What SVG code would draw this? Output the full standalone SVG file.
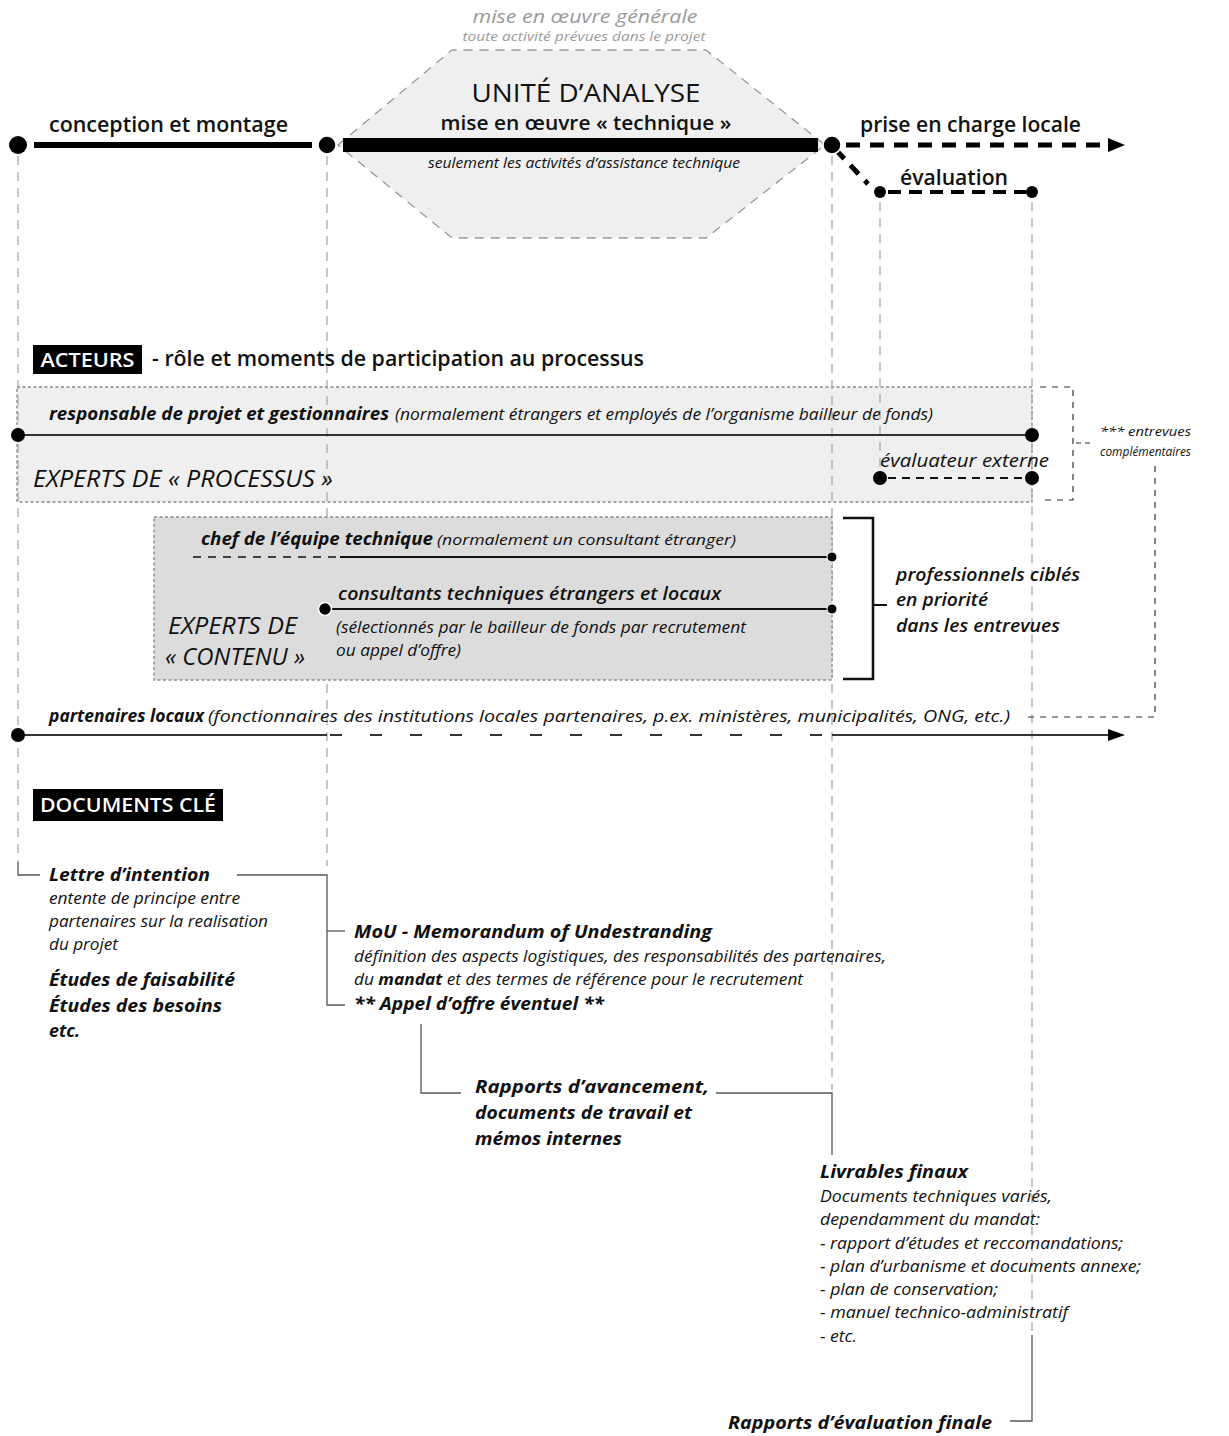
<svg xmlns="http://www.w3.org/2000/svg" width="1229" height="1436" viewBox="0 0 1229 1436">
<defs>
<style>
text{font-family:"Open Sans","Noto Sans",sans-serif;fill:#111}
.sb{font-weight:600}
.it{font-style:italic}
.bi{font-style:italic;font-weight:700}
.si{font-style:italic;font-weight:600}
.gray{fill:#9a9a9a}
.wh{fill:#fff}
.vl{stroke:#a8a8a8;stroke-width:1.3;stroke-dasharray:9,7;fill:none}
.cn{stroke:#555;stroke-width:1.3;fill:none}
.blk{fill:#000}
</style>
</defs>
<rect width="1229" height="1436" fill="#fff"/>

<!-- processus box (under lines) -->
<g id="box-processus">
<rect x="17" y="387" width="1015" height="115" fill="#efefef" stroke="#8a8a8a" stroke-width="1.4" stroke-dasharray="3,2.5"/>
</g>

<!-- hexagon -->
<g id="unite-analyse">
<polygon points="338,145 452,50 706,50 825,145 706,238 452,238" fill="#efefef" stroke="#9a9a9a" stroke-width="1.3" stroke-dasharray="9,7"/>
<text class="it gray" x="585" y="23" font-size="19" text-anchor="middle" textLength="225" lengthAdjust="spacingAndGlyphs">mise en œuvre générale</text>
<text class="it gray" x="584" y="41" font-size="12.5" text-anchor="middle" textLength="243" lengthAdjust="spacingAndGlyphs">toute activité prévues dans le projet</text>
<text x="586" y="102" font-size="26" font-weight="500" text-anchor="middle" textLength="229" lengthAdjust="spacingAndGlyphs">UNITÉ D’ANALYSE</text>
<text class="sb" x="586" y="130" font-size="19" text-anchor="middle" textLength="291" lengthAdjust="spacingAndGlyphs">mise en œuvre « technique »</text>
<text class="it" x="584" y="168" font-size="15" text-anchor="middle" textLength="312" lengthAdjust="spacingAndGlyphs">seulement les activités d’assistance technique</text>
</g>

<!-- connectors -->
<g id="connectors">
<line class="vl" x1="18" y1="156" x2="18" y2="862"/>
<line class="vl" x1="327" y1="156" x2="327" y2="866"/>
<line class="vl" x1="832" y1="156" x2="832" y2="1090"/>
<line class="vl" x1="880" y1="202" x2="880" y2="470"/>
<line class="vl" x1="1032" y1="202" x2="1032" y2="1335"/>
<line x1="34" y1="145" x2="312" y2="145" stroke="#000" stroke-width="6"/>
<line x1="343" y1="145" x2="818" y2="145" stroke="#000" stroke-width="14"/>
<line x1="846" y1="145" x2="1108" y2="145" stroke="#000" stroke-width="5" stroke-dasharray="14,10"/>
<polygon points="1108,138 1125,145 1108,152" fill="#000"/>
<line x1="836" y1="150" x2="868" y2="184" stroke="#000" stroke-width="5" stroke-dasharray="12,9"/>
<line x1="888" y1="192" x2="1026" y2="192" stroke="#000" stroke-width="4" stroke-dasharray="13,8"/>
<line x1="18" y1="435" x2="1032" y2="435" stroke="#333" stroke-width="2"/>
<line x1="888" y1="478" x2="1028" y2="478" stroke="#111" stroke-width="1.8" stroke-dasharray="8,6"/>
<polyline points="1040,387 1073,387 1073,500 1040,500" fill="none" stroke="#333" stroke-width="1.2" stroke-dasharray="6,6"/>
<line x1="1076" y1="443" x2="1092" y2="443" stroke="#333" stroke-width="1.2" stroke-dasharray="5,4"/>
<polyline points="1155,466 1155,717 1025,717" fill="none" stroke="#333" stroke-width="1.2" stroke-dasharray="6,6"/>
<line x1="18" y1="735" x2="327" y2="735" stroke="#333" stroke-width="2"/>
<line x1="330" y1="735" x2="830" y2="735" stroke="#333" stroke-width="2" stroke-dasharray="12,28"/>
<line x1="832" y1="735" x2="1110" y2="735" stroke="#333" stroke-width="2"/>
<polygon points="1108,729 1125,735 1108,741" fill="#000"/>
<polyline class="cn" points="18,862 18,875 40,875"/>
<polyline class="cn" points="237,875 327,875 327,1005 345,1005"/>
<line class="cn" x1="327" y1="931" x2="345" y2="931"/>
<polyline class="cn" points="421,1024 421,1093 461,1093"/>
<polyline class="cn" points="716,1093 832,1093 832,1155"/>
<polyline class="cn" points="1032,1335 1032,1421 1010,1421"/>
</g>

<g id="timeline">
<circle cx="18" cy="145" r="9" class="blk"/>
<circle cx="327" cy="145" r="9" class="blk" stroke="#fff" stroke-width="1.5"/>
<circle cx="832" cy="145" r="9" class="blk" stroke="#fff" stroke-width="1.5"/>
<circle cx="880" cy="192" r="6" class="blk"/>
<circle cx="1032" cy="192" r="6" class="blk"/>
<text class="sb" x="49" y="132" font-size="21" textLength="239" lengthAdjust="spacingAndGlyphs">conception et montage</text>
<text class="sb" x="860" y="132" font-size="21" textLength="221" lengthAdjust="spacingAndGlyphs">prise en charge locale</text>
<text class="sb" x="900" y="185" font-size="21" textLength="108" lengthAdjust="spacingAndGlyphs">évaluation</text>
</g>

<g id="acteurs-header">
<rect x="33" y="345" width="109" height="29" fill="#000"/>
<text class="sb wh" x="87.5" y="367" font-size="20" text-anchor="middle" textLength="94" lengthAdjust="spacingAndGlyphs">ACTEURS</text>
<text class="sb" x="152" y="366" font-size="21" textLength="492" lengthAdjust="spacingAndGlyphs">-  rôle et moments de participation au processus</text>
</g>

<g id="experts-processus">
<text class="bi" x="49" y="420" font-size="17" textLength="340" lengthAdjust="spacingAndGlyphs">responsable de projet et gestionnaires</text>
<text class="it" x="395" y="420" font-size="15.5" textLength="538" lengthAdjust="spacingAndGlyphs">(normalement étrangers et employés de l’organisme bailleur de fonds)</text>
<circle cx="18" cy="435" r="7" class="blk"/>
<circle cx="1032" cy="435" r="7" class="blk"/>
<text class="it" x="33" y="487" font-size="23" textLength="300" lengthAdjust="spacingAndGlyphs">EXPERTS DE  « PROCESSUS »</text>
<text class="it" x="880" y="467" font-size="18" textLength="169" lengthAdjust="spacingAndGlyphs">évaluateur externe</text>
<circle cx="880" cy="478" r="7" class="blk"/>
<circle cx="1032" cy="478" r="7" class="blk"/>
<text class="it" x="1100" y="436" font-size="13" textLength="91" lengthAdjust="spacingAndGlyphs">*** entrevues</text>
<text class="it" x="1100" y="456" font-size="13" textLength="91" lengthAdjust="spacingAndGlyphs">complémentaires</text>
</g>

<g id="experts-contenu">
<rect x="154" y="517" width="678" height="163" fill="#dcdcdc" stroke="#8a8a8a" stroke-width="1.4" stroke-dasharray="3,2.5"/>
<text class="bi" x="201" y="545" font-size="17" textLength="232" lengthAdjust="spacingAndGlyphs">chef de l’équipe technique</text>
<text class="it" x="437" y="545" font-size="15" textLength="299" lengthAdjust="spacingAndGlyphs">(normalement un consultant étranger)</text>
<line x1="193" y1="557" x2="338" y2="557" stroke="#111" stroke-width="1.6" stroke-dasharray="8,7"/>
<line x1="340" y1="557" x2="832" y2="557" stroke="#111" stroke-width="1.8"/>
<circle cx="832" cy="557" r="5" class="blk" stroke="#fff" stroke-width="1"/>
<text class="si" x="338" y="600" font-size="18" textLength="383" lengthAdjust="spacingAndGlyphs">consultants techniques étrangers et locaux</text>
<line x1="325" y1="609" x2="832" y2="609" stroke="#111" stroke-width="1.8"/>
<circle cx="325" cy="609" r="6.5" class="blk" stroke="#fff" stroke-width="1.5"/>
<circle cx="832" cy="609" r="5" class="blk" stroke="#fff" stroke-width="1"/>
<text class="it" x="336" y="633" font-size="16" textLength="410" lengthAdjust="spacingAndGlyphs">(sélectionnés par le bailleur de fonds par recrutement</text>
<text class="it" x="336" y="656" font-size="16" textLength="125" lengthAdjust="spacingAndGlyphs">ou appel d’offre)</text>
<text class="it" x="168" y="634" font-size="23" textLength="129" lengthAdjust="spacingAndGlyphs">EXPERTS DE</text>
<text class="it" x="165" y="665" font-size="23" textLength="140" lengthAdjust="spacingAndGlyphs">« CONTENU »</text>
</g>

<g id="professionnels-cibles">
<polyline points="843,518 873,518 873,679 843,679" fill="none" stroke="#111" stroke-width="2.6"/>
<line x1="873" y1="605" x2="887" y2="605" stroke="#111" stroke-width="2"/>
<text class="si" x="896" y="581" font-size="18" textLength="184" lengthAdjust="spacingAndGlyphs">professionnels ciblés</text>
<text class="si" x="896" y="606" font-size="18" textLength="92" lengthAdjust="spacingAndGlyphs">en priorité</text>
<text class="si" x="896" y="632" font-size="18" textLength="164" lengthAdjust="spacingAndGlyphs">dans les entrevues</text>
</g>

<g id="partenaires-locaux">
<text class="bi" x="49" y="722" font-size="17" textLength="155" lengthAdjust="spacingAndGlyphs">partenaires locaux</text>
<text class="it" x="208" y="722" font-size="17" textLength="802" lengthAdjust="spacingAndGlyphs">(fonctionnaires des institutions locales partenaires, p.ex. ministères, municipalités, ONG, etc.)</text>
<circle cx="18" cy="735" r="7" class="blk"/>
</g>

<g id="documents-header">
<rect x="33" y="789" width="190" height="32" fill="#000"/>
<text class="sb wh" x="128" y="812" font-size="20" text-anchor="middle" textLength="176" lengthAdjust="spacingAndGlyphs">DOCUMENTS CLÉ</text>
</g>

<g id="doc-lettre">
<text class="bi" x="49" y="881" font-size="18" textLength="161" lengthAdjust="spacingAndGlyphs">Lettre d’intention</text>
<text class="it" x="49" y="904" font-size="16" textLength="191" lengthAdjust="spacingAndGlyphs">entente de principe entre</text>
<text class="it" x="49" y="927" font-size="16" textLength="219" lengthAdjust="spacingAndGlyphs">partenaires sur la realisation</text>
<text class="it" x="49" y="950" font-size="16" textLength="69" lengthAdjust="spacingAndGlyphs">du projet</text>
<text class="bi" x="49" y="986" font-size="18" textLength="186" lengthAdjust="spacingAndGlyphs">Études de faisabilité</text>
<text class="bi" x="49" y="1012" font-size="18" textLength="173" lengthAdjust="spacingAndGlyphs">Études des besoins</text>
<text class="bi" x="49" y="1037" font-size="18" textLength="31" lengthAdjust="spacingAndGlyphs">etc.</text>
</g>

<g id="doc-mou">
<text class="bi" x="354" y="938" font-size="18" textLength="358" lengthAdjust="spacingAndGlyphs">MoU - Memorandum of Undestranding</text>
<text class="it" x="354" y="962" font-size="16" textLength="532" lengthAdjust="spacingAndGlyphs">définition des aspects logistiques, des responsabilités des partenaires,</text>
<text class="it" x="354" y="985" font-size="16" textLength="449" lengthAdjust="spacingAndGlyphs">du <tspan font-weight="700">mandat</tspan> et des termes de référence pour le recrutement</text>
<text class="bi" x="354" y="1010" font-size="18" textLength="250" lengthAdjust="spacingAndGlyphs">** Appel d’offre éventuel **</text>
</g>

<g id="doc-rapports">
<text class="bi" x="475" y="1093" font-size="18" textLength="234" lengthAdjust="spacingAndGlyphs">Rapports d’avancement,</text>
<text class="bi" x="475" y="1119" font-size="18" textLength="217" lengthAdjust="spacingAndGlyphs">documents de travail et</text>
<text class="bi" x="475" y="1145" font-size="18" textLength="147" lengthAdjust="spacingAndGlyphs">mémos internes</text>
</g>

<g id="doc-livrables">
<text class="bi" x="820" y="1178" font-size="18" textLength="148" lengthAdjust="spacingAndGlyphs">Livrables finaux</text>
<text class="it" x="820" y="1202" font-size="16" textLength="232" lengthAdjust="spacingAndGlyphs">Documents techniques variés,</text>
<text class="it" x="820" y="1225" font-size="16" textLength="220" lengthAdjust="spacingAndGlyphs">dependamment du mandat:</text>
<text class="it" x="820" y="1249" font-size="16" textLength="303" lengthAdjust="spacingAndGlyphs">- rapport d’études  et reccomandations;</text>
<text class="it" x="820" y="1272" font-size="16" textLength="321" lengthAdjust="spacingAndGlyphs">- plan d’urbanisme et documents annexe;</text>
<text class="it" x="820" y="1295" font-size="16" textLength="178" lengthAdjust="spacingAndGlyphs">- plan de conservation;</text>
<text class="it" x="820" y="1318" font-size="16" textLength="248" lengthAdjust="spacingAndGlyphs">- manuel technico-administratif</text>
<text class="it" x="820" y="1342" font-size="16" textLength="37" lengthAdjust="spacingAndGlyphs">- etc.</text>
</g>

<g id="doc-evaluation">
<text class="bi" x="728" y="1429" font-size="18" textLength="264" lengthAdjust="spacingAndGlyphs">Rapports d’évaluation finale</text>
</g>
</svg>
